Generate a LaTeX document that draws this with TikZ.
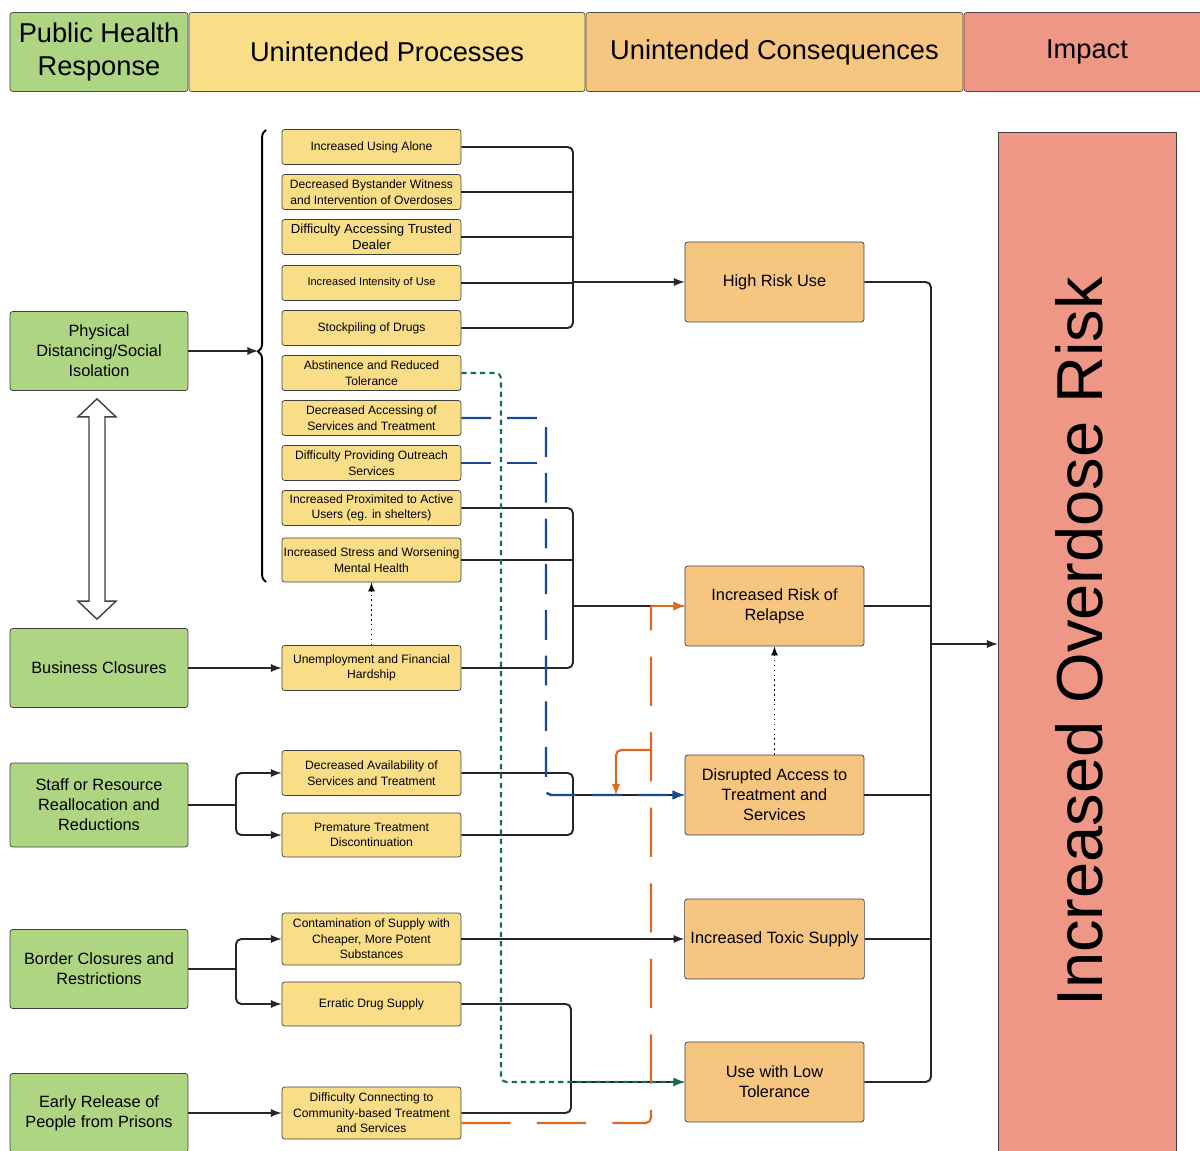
\documentclass[tikz,border=0pt]{standalone}
\usepackage{fontspec}
\setmainfont{Liberation Sans}
\usetikzlibrary{shapes, arrows, calc, decorations.pathreplacing}

\definecolor{respgreen}{RGB}{174,213,129}
\definecolor{procyellow}{RGB}{249,222,135}
\definecolor{consorange}{RGB}{246,197,127}
\definecolor{impactred}{RGB}{238,151,135}
\definecolor{linkblue}{RGB}{22,72,150}
\definecolor{linkgreen}{RGB}{24,110,76}
\definecolor{linkorange}{RGB}{222,105,28}

\begin{document}
\begin{tikzpicture}[x=0.02cm, y=-0.02cm, >=latex]

\tikzstyle{header} = [rectangle, rounded corners=1.5pt, draw=black!70, text centered, align=center, minimum height=1.58cm, font=\fontsize{15.5}{18.7}\selectfont]
\tikzstyle{response} = [rectangle, rounded corners=1.5pt, draw=black!75, fill=respgreen, align=center, minimum width=3.56cm, minimum height=1.58cm, font=\fontsize{9.3}{11.3}\selectfont]
\tikzstyle{process} = [rectangle, rounded corners=1.5pt, draw=black!75, fill=procyellow, align=center, inner sep=1pt, minimum width=3.58cm, minimum height=0.7cm, font=\fontsize{6.9}{8.8}\selectfont]
\tikzstyle{consequence} = [rectangle, rounded corners=1.5pt, draw=black!75, fill=consorange, align=center, minimum width=3.58cm, minimum height=1.6cm, font=\fontsize{9.3}{11.3}\selectfont]
\tikzstyle{arrow} = [line width=1.1pt, draw=black!85, rounded corners=3pt]
\tikzstyle{hint} = [line width=0.8pt, dotted, ->]
\tikzstyle{hollow} = [line width=0.8pt, draw=black!75, fill=white]
\tikzstyle{bluedash} = [line width=1.4pt, draw=linkblue, dash pattern=on 17pt off 9pt, rounded corners=3pt]
\tikzstyle{greendash} = [line width=1.2pt, draw=linkgreen, dash pattern=on 3pt off 2.3pt, rounded corners=3pt]
\tikzstyle{orangedash} = [line width=1.2pt, draw=linkorange, dash pattern=on 28pt off 15pt, rounded corners=3pt]
\tikzstyle{orangeline} = [line width=1.2pt, draw=linkorange, rounded corners=3pt]

\useasboundingbox (0,0) rectangle (1200,1151);

% column headers
\node (hresp) [header, fill=respgreen, minimum width=3.56cm] at (99,52) {Public Health\\Response};
\node (hproc) [header, fill=procyellow, minimum width=7.92cm] at (387,52) {Unintended Processes};
\node (hcons) [header, fill=consorange, minimum width=7.54cm] at (774.5,52) {Unintended Consequences};
\node (himp) [header, fill=impactred, minimum width=4.92cm] at (1087,52) {Impact};

% public health responses
\node (distancing) [response] at (99,351) {Physical\\Distancing/Social\\Isolation};
\node (closures) [response] at (99,668) {Business Closures};
\node (staffing) [response, minimum height=1.68cm] at (99,805) {Staff or Resource\\Reallocation and\\Reductions};
\node (border) [response] at (99,969) {Border Closures and\\Restrictions};
\node (release) [response] at (99,1113) {Early Release of\\People from Prisons};

% unintended processes
\node (alone) [process] at (371.5,147) {Increased Using Alone};
\node (bystander) [process] at (371.5,192) {Decreased Bystander Witness\\and Intervention of Overdoses};
\node (dealer) [process, font=\fontsize{7.5}{9}\selectfont] at (371.5,237) {Difficulty Accessing Trusted\\Dealer};
\node (intensity) [process, font=\fontsize{6.3}{8}\selectfont] at (371.5,283) {Increased Intensity of Use};
\node (stockpile) [process] at (371.5,328) {Stockpiling of Drugs};
\node (abstinence) [process] at (371.5,373) {Abstinence and Reduced\\Tolerance};
\node (accessing) [process] at (371.5,418) {Decreased Accessing of\\Services and Treatment};
\node (outreach) [process] at (371.5,463) {Difficulty Providing Outreach\\Services};
\node (proximity) [process] at (371.5,508) {Increased Proximited to Active\\Users (eg. in shelters)};
\node (stress) [process, minimum height=0.88cm] at (371.5,560) {Increased Stress and Worsening\\Mental Health};
\node (hardship) [process, minimum height=0.9cm] at (371.5,668) {Unemployment and Financial\\Hardship};
\node (availability) [process, minimum height=0.9cm] at (371.5,773) {Decreased Availability of\\Services and Treatment};
\node (discontinue) [process, minimum height=0.88cm] at (371.5,835) {Premature Treatment\\Discontinuation};
\node (contamination) [process, minimum height=1.04cm] at (371.5,939) {Contamination of Supply with\\Cheaper, More Potent\\Substances};
\node (erratic) [process, minimum height=0.88cm] at (371.5,1004) {Erratic Drug Supply};
\node (community) [process, minimum height=1.04cm] at (371.5,1113) {Difficulty Connecting to\\Community-based Treatment\\and Services};

% unintended consequences
\node (highrisk) [consequence] at (774.5,282) {High Risk Use};
\node (relapse) [consequence] at (774.5,606) {Increased Risk of\\Relapse};
\node (disrupted) [consequence] at (774.5,795) {Disrupted Access to\\Treatment and\\Services};
\node (toxic) [consequence] at (774.5,939) {Increased Toxic Supply};
\node (lowtol) [consequence] at (774.5,1082) {Use with Low\\Tolerance};

% impact
\node (risk) [rectangle, draw=black!75, fill=impactred, minimum width=3.56cm, minimum height=20.4cm] at (1087,642) {};
\node (risklabel) [rotate=90, font=\fontsize{37}{40}\selectfont] at (1079,642) {Increased Overdose Risk};

% hubs
\coordinate (bracetip) at (258,351);
\coordinate (hubA) at (573,282);
\coordinate (hubB) at (573,606);
\coordinate (hubC) at (573,795);
\coordinate (hubD) at (571,1082);
\coordinate (hubR) at (931,644);
\coordinate (staffhub) at (236,805);
\coordinate (borderhub) at (236,969);
\coordinate (bluehub) at (546,795);
\coordinate (greenhub) at (501,1082);
\coordinate (orangehub) at (651,606);
\coordinate (orangesplit) at (651,750);
\coordinate (orangedrop) at (616,795);
\coordinate (linktop) at ($(distancing.south)+(-2,8)$);
\coordinate (linkbot) at ($(closures.north)+(-2,-9)$);

% left side
\draw [line width=1.1pt, decorate, decoration={brace, amplitude=4.5pt, aspect=0.51}] (266,582) -- (266,130);
\draw [arrow, ->] (distancing.east) -- (bracetip);
\draw [hollow] (linktop) -- ++(19,18) -- ++(-11,0) -- ($(linkbot)+(8,-18)$) -- ++(11,0) -- (linkbot)
  -- ++(-19,-18) -- ++(11,0) -- ($(linktop)+(-8,18)$) -- ++(-11,0) -- cycle;
\draw [arrow, ->] (closures.east) -- (hardship.west);
\draw [arrow] (staffing.east) -- (staffhub);
\draw [arrow, ->] (staffhub) |- (availability.west);
\draw [arrow, ->] (staffhub) |- (discontinue.west);
\draw [arrow] (border.east) -- (borderhub);
\draw [arrow, ->] (borderhub) |- (contamination.west);
\draw [arrow, ->] (borderhub) |- (erratic.west);
\draw [arrow, ->] (release.east) -- (community.west);
\draw [hint] (hardship.north) -- (stress.south);

% middle
\draw [arrow] (alone.east) -| (hubA) |- (stockpile.east);
\draw [arrow] (bystander.east) -- (bystander.east -| hubA);
\draw [arrow] (dealer.east) -- (dealer.east -| hubA);
\draw [arrow] (intensity.east) -- (intensity.east -| hubA);
\draw [arrow, ->] (hubA) -- (highrisk.west);
\draw [arrow] (proximity.east) -| (hubB) |- (hardship.east);
\draw [arrow] (stress.east) -- (stress.east -| hubB);
\draw [arrow, ->] (hubB) -- (relapse.west);
\draw [arrow] (availability.east) -| (hubC) |- (discontinue.east);
\draw [arrow, ->] (hubC) -- (disrupted.west);
\draw [arrow, ->] (contamination.east) -- (toxic.west);
\draw [arrow] (erratic.east) -| (hubD) |- (community.east);
\draw [arrow, ->] (hubD) -- (lowtol.west);
\draw [hint] (disrupted.north) -- (relapse.south);

% dashed links
\draw [greendash, ->] (abstinence.east) -| (greenhub) -- (lowtol.west);
\draw [bluedash, ->] (accessing.east) -| (bluehub) -- (disrupted.west);
\draw [bluedash] (outreach.east) -- (outreach.east -| bluehub);
\draw [orangedash] ($(community.east)+(0,10)$) -| (orangehub);
\draw [orangeline, ->] (orangehub) -- (relapse.west);
\draw [orangeline, ->] (orangesplit) -| (orangedrop);

% right side
\draw [arrow] (highrisk.east) -| (hubR) |- (lowtol.east);
\draw [arrow] (relapse.east) -- (relapse.east -| hubR);
\draw [arrow] (disrupted.east) -- (disrupted.east -| hubR);
\draw [arrow] (toxic.east) -- (toxic.east -| hubR);
\draw [arrow, ->] (hubR) -- (hubR -| risk.west);
\end{tikzpicture}
\end{document}
